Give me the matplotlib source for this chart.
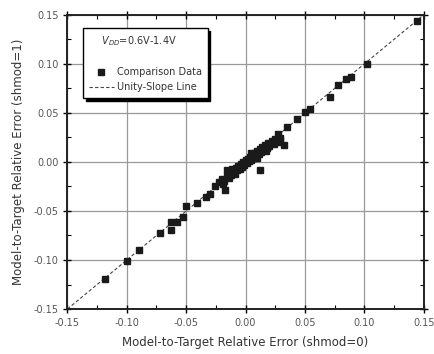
import numpy as np
import matplotlib.pyplot as plt
from matplotlib.lines import Line2D
from matplotlib.ticker import MultipleLocator

# data (shmod=0 on x, shmod=1 on y)
x_outer = [-0.118, -0.100, -0.090, -0.072, -0.063, -0.063, -0.058, -0.053, -0.050,
           -0.041, -0.033, -0.030, -0.026, -0.019, -0.017, -0.016, 0.012, 0.018,
           0.023, 0.029, 0.032, 0.027, 0.035, 0.043, 0.050, 0.054, 0.071, 0.078,
           0.085, 0.089, 0.102, 0.144]
y_outer = [-0.119, -0.101, -0.090, -0.072, -0.069, -0.061, -0.061, -0.056, -0.045,
           -0.042, -0.036, -0.033, -0.025, -0.022, -0.029, -0.008, -0.008, 0.015,
           0.019, 0.022, 0.017, 0.029, 0.036, 0.044, 0.051, 0.054, 0.066, 0.078,
           0.085, 0.087, 0.100, 0.144]

x_cluster = [-0.022, -0.020, -0.018, -0.016, -0.014, -0.013, -0.012, -0.010, -0.009,
             -0.008, -0.007, -0.006, -0.005, -0.004, -0.003, -0.002, -0.001, 0.000,
             0.001, 0.002, 0.003, 0.004, 0.005, 0.006, 0.007, 0.008, 0.009, 0.010,
             0.011, 0.012, 0.013, 0.014, 0.015, 0.016, 0.018, 0.019, 0.020, 0.022,
             0.024, 0.025, 0.027, 0.029, 0.005, 0.010, 0.017, -0.011]
y_cluster = [-0.020, -0.017, -0.019, -0.014, -0.016, -0.011, -0.013, -0.009, -0.012,
             -0.006, -0.008, -0.004, -0.007, -0.002, -0.005, 0.000, -0.003, 0.002,
             -0.001, 0.003, 0.001, 0.005, 0.002, 0.007, 0.004, 0.009, 0.006, 0.011,
             0.008, 0.013, 0.010, 0.015, 0.012, 0.017, 0.014, 0.019, 0.016, 0.021,
             0.018, 0.023, 0.020, 0.024, 0.009, 0.004, 0.011, -0.007]

x_data = x_outer + x_cluster
y_data = y_outer + y_cluster
unity = [-0.15, 0.15]

fig = plt.figure(figsize=(4.35, 3.54), dpi=100)
ax = fig.add_axes([0.155, 0.127, 0.819, 0.831])

ax.grid(True, color='#9a9a9a', linewidth=0.9, linestyle='-')
ax.set_axisbelow(True)

ax.plot(unity, unity, linestyle=(0, (3, 2)), color='#444444', lw=0.8, zorder=2)
ax.plot(x_data, y_data, linestyle='none', marker='s', markersize=4.0,
        color='#1a1a1a', zorder=3)

ax.set_xlim(-0.15, 0.15)
ax.set_ylim(-0.15, 0.15)
ax.xaxis.set_major_locator(MultipleLocator(0.05))
ax.yaxis.set_major_locator(MultipleLocator(0.05))
ax.xaxis.set_minor_locator(MultipleLocator(0.025))
ax.yaxis.set_minor_locator(MultipleLocator(0.025))
ax.xaxis.set_major_formatter(lambda v, p: '%.2f' % v)
ax.yaxis.set_major_formatter(lambda v, p: '%.2f' % v)

ax.tick_params(which='major', direction='inout', length=6, width=1.0,
               top=True, right=True, labelsize=7, labelcolor='#555555')
ax.tick_params(which='minor', direction='in', length=3, width=0.8,
               top=True, right=True)
for s in ax.spines.values():
    s.set_linewidth(1.4)
    s.set_color('#222222')

ax.set_xlabel('Model-to-Target Relative Error (shmod=0)', fontsize=8.5,
              color='#333333', labelpad=6)
ax.set_ylabel('Model-to-Target Relative Error (shmod=1)', fontsize=8.5,
              color='#333333', labelpad=6)

handles = [Line2D([], [], linestyle='none'),
           Line2D([], [], linestyle='none', marker='s', markersize=4, color='#1a1a1a'),
           Line2D([], [], linestyle=(0, (3, 2)), color='#444444', lw=0.8)]
labels = [' ', 'Comparison Data', 'Unity-Slope Line']
leg = ax.legend(handles, labels, loc='upper left', bbox_to_anchor=(0.043, 0.955),
                borderaxespad=0, fontsize=7, title='    $V_{DD}$=0.6V-1.4V',
                title_fontsize=7, alignment='left', frameon=True, fancybox=False,
                shadow={'color': 'black', 'alpha': 1.0}, edgecolor='black',
                handlelength=2.6, handletextpad=0.3, borderpad=0.6,
                labelspacing=0.5)
leg.get_frame().set_linewidth(1.0)
for t in leg.get_texts():
    t.set_color('#333333')
leg.get_title().set_color('#333333')

fig.savefig('out.png', dpi=100)
